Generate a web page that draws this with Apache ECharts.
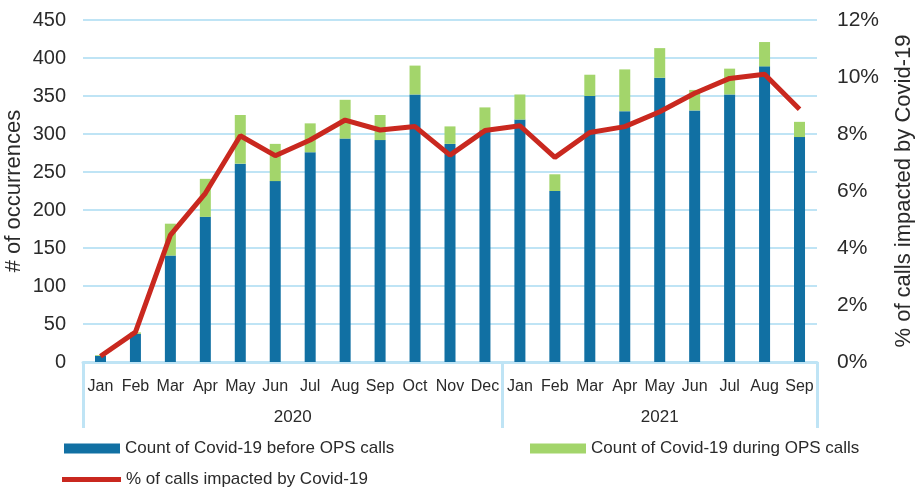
<!DOCTYPE html>
<html><head><meta charset="utf-8">
<script src="https://cdn.jsdelivr.net/npm/echarts@6/dist/echarts.min.js"></script>
<style>html,body{margin:0;padding:0;background:#fff}#c{width:916px;height:489px}</style>
</head><body><div id="c"></div>
<script>
const months = ['Jan','Feb','Mar','Apr','May','Jun','Jul','Aug','Sep','Oct','Nov','Dec','Jan','Feb','Mar','Apr','May','Jun','Jul','Aug','Sep'];
const before = [8,37,140,191,261,238,276,294,292,352,287,305,319,225,350,330,374,331,352,389,296];
const during = [1,2,42,50,64,49,38,51,33,38,23,30,33,22,28,55,39,27,34,32,20];
const pct = [0.2,1.05,4.45,5.92,7.94,7.24,7.79,8.49,8.14,8.26,7.26,8.12,8.29,7.18,8.05,8.26,8.78,9.43,9.95,10.1,8.87];
// year band labels on half-month boundaries (43 points)
const yearSlots = [];
for (let i = 0; i <= 42; i++) yearSlots.push('');
yearSlots[12] = '2020';
yearSlots[33] = '2021';
const yearDividers = [0, 24, 42];
const leftTicks = [0,50,100,150,200,250,300,350,400,450];
const rightTicks = [0,2,4,6,8,10,12];

const FONT = "'Liberation Sans Narrow','Arial Narrow','Liberation Sans',Arial,sans-serif";
const GRID = '#bfe4f5';
const TXT = '#2a2a2a';

const chart = echarts.init(document.getElementById('c'));
chart.setOption({
  animation: false,
  textStyle: {fontFamily: FONT},
  grid: {left: 83, right: 99, top: 20, bottom: 127, outerBoundsMode: 'none', containLabel: false},
  legend: [
    {data: [{name: 'Count of Covid-19 before OPS calls', icon: 'rect'}], left: 59, top: 435, itemWidth: 56, itemHeight: 10,
     textStyle: {fontSize: 17, color: TXT, fontFamily: FONT}},
    {data: [{name: 'Count of Covid-19 during OPS calls', icon: 'rect'}], left: 525, top: 435, itemWidth: 56, itemHeight: 10,
     textStyle: {fontSize: 17, color: TXT, fontFamily: FONT}},
    {data: [{name: '% of calls impacted by Covid-19', icon: 'rect'}], left: 57, top: 466, itemWidth: 59, itemHeight: 5,
     textStyle: {fontSize: 17, color: TXT, fontFamily: FONT}}
  ],
  xAxis: [
    {type: 'category', data: months, position: 'bottom',
     axisLine: {lineStyle: {color: GRID, width: 3}},
     axisTick: {show: false},
     axisLabel: {interval: 0, fontSize: 16, color: TXT, margin: 17, fontFamily: FONT}},
    {type: 'category', data: yearSlots, position: 'bottom', boundaryGap: false,
     axisLine: {show: false},
     axisTick: {show: true, length: 66, interval: (i) => yearDividers.indexOf(i) >= 0,
                lineStyle: {color: GRID, width: 3}},
     axisLabel: {interval: (i, v) => v !== '', fontSize: 17, color: TXT, margin: 47, fontFamily: FONT}}
  ],
  yAxis: [
    {type: 'value', min: 0, max: 450, interval: 50,
     name: '# of occurrences', nameLocation: 'middle', nameGap: 58, nameRotate: 90, nameMoveOverlap: false,
     nameTextStyle: {fontSize: 22, color: TXT, fontFamily: FONT},
     axisLine: {show: false}, axisTick: {show: false},
     axisLabel: {fontSize: 20, color: TXT, margin: 17, fontFamily: FONT},
     splitLine: {lineStyle: {color: GRID, width: 2}}},
    {type: 'value', min: 0, max: 12, interval: 2, position: 'right',
     name: '% of calls impacted by Covid-19', nameLocation: 'middle', nameGap: 76, nameRotate: 90, nameMoveOverlap: false,
     nameTextStyle: {fontSize: 22, color: TXT, fontFamily: FONT},
     axisLine: {show: false}, axisTick: {show: false},
     axisLabel: {fontSize: 21, color: TXT, margin: 20, formatter: '{value}%', fontFamily: FONT},
     splitLine: {show: false}}
  ],
  series: [
    {name: 'Count of Covid-19 before OPS calls', type: 'bar', stack: 'c', data: before, barWidth: 11,
     itemStyle: {color: '#1170a3'}},
    {name: 'Count of Covid-19 during OPS calls', type: 'bar', stack: 'c', data: during, barWidth: 11,
     itemStyle: {color: '#a3d56b'}},
    {name: '% of calls impacted by Covid-19', type: 'line', yAxisIndex: 1, data: pct,
     symbol: 'none', lineStyle: {color: '#c9281f', width: 5}, itemStyle: {color: '#c9281f'}}
  ]
});
</script></body></html>
